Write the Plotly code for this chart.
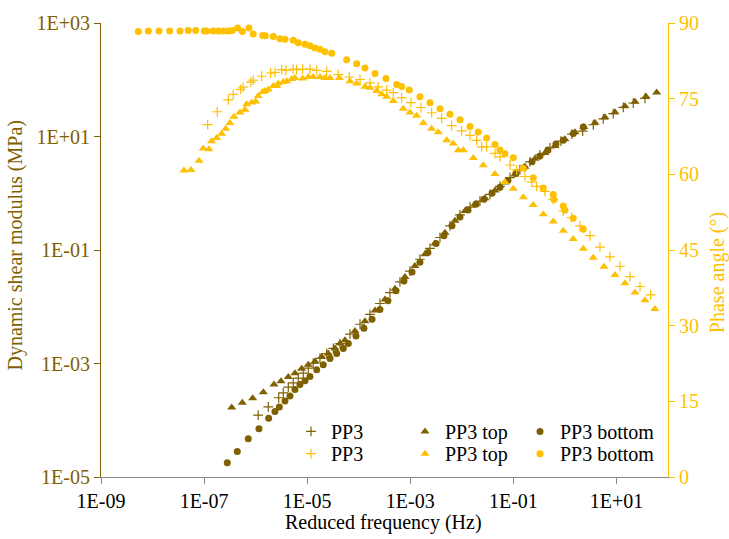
import plotly.graph_objects as go

# ---- Data: reduced frequency (Hz), dynamic shear modulus (MPa), phase angle (deg) ----
# PP3 (whole sample)
pp3_g_freq = [1.12e-6, 1.76e-6, 2.80e-6, 3.44e-6, 4.30e-6, 5.37e-6, 6.71e-6, 8.39e-6, 1.05e-5, 1.31e-5,
              1.77e-5, 2.39e-5, 3.21e-5, 4.33e-5, 6.76e-5, 1.06e-4, 1.65e-4, 2.58e-4, 4.04e-4, 6.31e-4,
              9.86e-4, 1.54e-3, 2.41e-3, 3.77e-3, 5.89e-3, 9.20e-3, 1.44e-2, 2.25e-2, 3.52e-2, 5.50e-2,
              8.59e-2, 0.134, 0.210, 0.328, 0.513, 0.838, 1.37, 2.21, 3.55, 5.55,
              8.67, 13.6, 21.2, 35.7]
pp3_g = [1.23e-4, 1.72e-4, 2.49e-4, 3.04e-4, 3.82e-4, 4.54e-4, 5.53e-4, 6.76e-4, 8.26e-4, 1.01e-3,
         1.23e-3, 1.50e-3, 1.84e-3, 2.24e-3, 3.30e-3, 4.92e-3, 7.34e-3, 1.14e-2, 1.77e-2, 2.74e-2,
         4.26e-2, 6.87e-2, 0.107, 0.166, 0.267, 0.415, 0.570, 0.724, 0.959, 1.32,
         1.89, 2.60, 3.58, 4.74, 6.27, 8.28, 11.0, 12.4, 16.1, 20.5,
         25.4, 32.6, 38.9, 46.8]
pp3_ph_freq = [1.17e-7, 1.80e-7, 2.94e-7, 3.68e-7, 5.13e-7, 5.75e-7, 8.13e-7, 8.99e-7,
               1.31e-6, 1.96e-6, 2.37e-6, 3.20e-6, 3.88e-6, 5.37e-6, 6.25e-6, 8.18e-6,
               1.13e-5, 1.53e-5, 2.39e-5, 4.01e-5, 6.56e-5,
               1.06e-4, 1.65e-4, 2.39e-4, 3.48e-4, 4.68e-4, 6.81e-4,
               1.03e-3, 1.61e-3, 2.60e-3, 4.06e-3, 6.35e-3, 9.93e-3,
               1.44e-2, 1.94e-2, 2.43e-2, 3.03e-2, 4.40e-2, 5.50e-2, 8.59e-2,
               0.116, 0.168, 0.226, 0.283, 0.410, 0.594, 0.929,
               1.35, 1.96, 3.06, 4.79, 7.48, 11.7, 18.3, 28.6, 46.0]
pp3_ph = [69.87, 72.41, 74.75, 75.86, 76.84, 77.29, 78.27, 78.66,
          79.44, 80.09, 80.22, 80.75, 80.61, 80.87, 80.75, 80.87,
          80.87, 80.61, 80.42, 79.77, 79.30,
          78.80, 78.13, 77.35, 76.71, 76.18, 75.14,
          74.22, 73.25, 72.21, 71.10, 69.67, 68.60,
          67.72, 66.74, 65.43, 65.43, 64.14, 63.47, 61.85,
          60.87, 59.57, 58.47, 57.61, 56.63, 55.01, 52.73,
          51.44, 49.80, 47.84, 45.57, 43.62, 41.78, 39.71, 37.76, 36.11]

# PP3 top
top_g_freq = [3.43e-7, 5.51e-7, 8.77e-7, 1.41e-6, 2.27e-6, 3.10e-6, 4.30e-6, 5.79e-6, 7.82e-6, 1.05e-5,
              1.42e-5, 1.91e-5, 2.56e-5, 3.46e-5, 4.33e-5, 5.41e-5, 8.45e-5, 1.32e-4, 2.07e-4, 3.23e-4,
              5.05e-4, 7.89e-4, 1.23e-3, 1.93e-3, 3.01e-3, 4.71e-3, 7.36e-3, 1.15e-2, 1.80e-2, 2.81e-2,
              4.40e-2, 6.87e-2, 0.107, 0.168, 0.262, 0.410, 0.641, 1.00, 1.57, 2.34,
              3.83, 5.98, 9.35, 14.6, 22.9, 37.3, 60.3]
top_g = [1.67e-4, 2.04e-4, 2.43e-4, 3.13e-4, 4.26e-4, 4.85e-4, 5.77e-4, 6.76e-4, 8.05e-4, 9.46e-4,
         1.08e-3, 1.32e-3, 1.50e-3, 1.84e-3, 2.24e-3, 2.56e-3, 3.72e-3, 5.55e-3, 8.61e-3, 1.34e-2,
         2.07e-2, 3.35e-2, 5.20e-2, 8.39e-2, 0.130, 0.202, 0.326, 0.486, 0.643, 0.817,
         1.12, 1.55, 2.13, 2.93, 4.04, 5.13, 6.79, 8.97, 11.9, 14.7,
         17.5, 21.9, 26.7, 34.0, 40.9, 50.6, 59.4]
top_ph_freq = [4.07e-8, 5.57e-8, 7.96e-8, 9.64e-8, 1.24e-7, 1.40e-7, 1.75e-7, 2.19e-7, 2.62e-7, 3.18e-7,
               3.80e-7, 4.97e-7, 6.21e-7, 6.70e-7, 8.38e-7, 1.00e-6, 1.12e-6, 1.37e-6, 1.52e-6, 1.76e-6,
               2.20e-6, 2.56e-6, 2.75e-6, 3.44e-6, 4.00e-6, 5.00e-6, 5.79e-6, 8.18e-6, 1.05e-5, 1.31e-5,
               1.77e-5, 2.21e-5, 2.77e-5, 4.20e-5, 6.76e-5, 9.12e-5, 1.32e-4, 1.65e-4, 2.23e-4, 2.79e-4,
               3.48e-4, 4.68e-4, 7.31e-4, 9.86e-4, 1.33e-3, 1.79e-3, 2.60e-3, 3.49e-3, 5.08e-3, 6.82e-3,
               8.53e-3, 1.07e-2, 1.67e-2, 2.61e-2, 4.40e-2, 6.87e-2, 9.95e-2, 0.156, 0.243, 0.380,
               0.594, 0.929, 1.45, 2.27, 3.55, 5.73, 9.38, 14.6, 22.9, 35.7, 55.8]
top_ph = [60.74, 60.88, 62.69, 65.12, 64.98, 66.54, 67.19, 68.05, 69.03, 70.20,
          71.43, 72.27, 72.80, 73.91, 74.22, 74.46, 75.53, 76.31, 76.51, 76.84,
          77.49, 77.49, 78.01, 78.31, 78.46, 78.91, 79.11, 79.01, 79.30, 79.30,
          79.30, 79.11, 79.11, 79.11, 78.46, 78.01, 77.35, 77.16, 76.51, 75.86,
          75.40, 74.56, 72.99, 72.27, 71.62, 70.20, 69.03, 68.36, 66.74, 66.09,
          64.78, 64.78, 63.22, 61.79, 60.09, 58.47, 57.16, 55.46, 53.90, 52.08,
          50.65, 48.82, 47.20, 45.24, 43.48, 41.66, 40.02, 38.40, 36.58, 35.02, 33.32]

# PP3 bottom
bot_g_freq = [2.82e-7, 4.41e-7, 7.19e-7, 1.16e-6, 1.79e-6, 2.37e-6, 2.88e-6, 3.71e-6, 4.63e-6, 5.79e-6,
              7.24e-6, 9.06e-6, 1.13e-5, 1.53e-5, 2.05e-5, 2.77e-5, 3.73e-5, 5.01e-5, 6.27e-5, 8.85e-5,
              1.26e-4, 1.81e-4, 2.58e-4, 3.69e-4, 5.28e-4, 7.55e-4, 1.08e-3, 1.54e-3, 2.20e-3, 3.16e-3,
              4.51e-3, 6.44e-3, 9.20e-3, 1.32e-2, 1.88e-2, 2.69e-2, 3.85e-2, 5.50e-2, 7.85e-2, 0.112,
              0.160, 0.230, 0.328, 0.469, 0.670, 0.929, 1.45, 2.27]
bot_g = [1.79e-5, 2.81e-5, 4.73e-5, 7.05e-5, 1.09e-4, 1.43e-4, 1.72e-4, 2.18e-4, 2.67e-4, 3.48e-4,
         4.26e-4, 4.99e-4, 5.93e-4, 7.74e-4, 9.46e-4, 1.23e-3, 1.50e-3, 1.84e-3, 2.24e-3, 3.05e-3,
         4.20e-3, 6.01e-3, 8.95e-3, 1.28e-2, 1.91e-2, 2.85e-2, 4.08e-2, 6.10e-2, 9.08e-2, 0.130,
         0.179, 0.267, 0.383, 0.506, 0.643, 0.785, 0.998, 1.27, 1.68, 2.22,
         2.82, 3.58, 4.55, 5.78, 7.35, 8.63, 11.3, 14.7]
bot_ph_freq = [5.30e-9, 8.28e-9, 1.33e-8, 2.15e-8, 3.41e-8, 4.93e-8, 6.87e-8, 1.01e-7, 1.12e-7, 1.51e-7,
               1.88e-7, 2.36e-7, 2.94e-7, 3.52e-7, 4.49e-7, 5.51e-7, 7.43e-7, 8.99e-7, 1.37e-6, 1.54e-6,
               2.20e-6, 2.96e-6, 3.71e-6, 5.37e-6, 6.71e-6, 9.06e-6, 1.13e-5, 1.42e-5, 1.77e-5, 2.21e-5,
               2.99e-5, 5.83e-5, 9.12e-5, 1.32e-4, 2.07e-4, 3.38e-4, 5.45e-4, 6.81e-4, 9.55e-4, 1.54e-3,
               2.41e-3, 3.77e-3, 5.89e-3, 9.20e-3, 1.44e-2, 2.08e-2, 3.03e-2, 4.40e-2, 5.50e-2, 6.87e-2,
               9.95e-2, 0.156, 0.243, 0.380, 0.594, 0.612, 0.929, 1.00, 1.45, 2.27]
bot_ph = [88.3, 88.4, 88.4, 88.4, 88.4, 88.5, 88.5, 88.4, 88.4, 88.4,
          88.4, 88.4, 88.4, 88.5, 89.0, 88.3, 89.0, 87.8, 87.5, 87.45,
          87.3, 86.9, 86.8, 86.6, 86.1, 85.8, 85.5, 85.05, 84.8, 84.3,
          84.0, 82.7, 81.9, 81.1, 80.0, 79.0, 77.8, 77.4, 76.7, 75.4,
          74.2, 73.0, 71.9, 70.8, 69.5, 68.4, 67.2, 65.9, 64.8, 64.1,
          63.3, 61.2, 59.3, 57.3, 56.0, 55.0, 53.7, 52.9, 51.3, 49.1]

# ---- Axis ticks ----
x_tickvals = [1e-9, 1e-7, 1e-5, 1e-3, 1e-1, 1e1]
x_ticktext = ["1E-09", "1E-07", "1E-05", "1E-03", "1E-01", "1E+01"]
g_tickvals = [1e-5, 1e-3, 1e-1, 1e1, 1e3]
g_ticktext = ["1E-05", "1E-03", "1E-01", "1E+01", "1E+03"]
ph_tickvals = [0, 15, 30, 45, 60, 75, 90]

BROWN = "#7F6000"
GOLD = "#FFC000"
FONT = "Liberation Serif, Times New Roman, serif"
FS = 20

# plot-area corners in pixels
L, R, T, B = 101, 668, 16, 477
W, H = 729, 539


def px_x(px):
    return (px - L) / (R - L)


def px_y(py):
    return (B - py) / (B - T)


fig = go.Figure()

# one legend box per entry: 3 columns x 2 rows
legend_cols = [291, 405, 520]
legend_rows = [430.7, 453.3]
legend_layout = {}


def add(x, y, name, symbol, color, yaxis, row, col, size):
    key = "legend" if (row == 0 and col == 0) else f"legend{row * 3 + col + 1}"
    marker = dict(symbol=symbol, color=color, size=size)
    if symbol == "cross-thin":
        marker["line"] = dict(color=color, width=1.2)
    else:
        marker["line"] = dict(width=0)
    fig.add_trace(go.Scatter(x=x, y=y, mode="markers", name=name, marker=marker,
                             yaxis=yaxis, legend=key))
    legend_layout[key] = dict(x=px_x(legend_cols[col]), y=px_y(legend_rows[row]),
                              xanchor="left", yanchor="middle", orientation="v",
                              bgcolor="rgba(0,0,0,0)", borderwidth=0,
                              font=dict(family=FONT, size=FS, color="#000000"))


# modulus (left axis)
add(pp3_g_freq, pp3_g, "PP3", "cross-thin", BROWN, "y", 0, 0, 7)
add(top_g_freq, top_g, "PP3 top", "triangle-up", BROWN, "y", 0, 1, 8)
add(bot_g_freq, bot_g, "PP3 bottom", "circle", BROWN, "y", 0, 2, 7)
# phase angle (right axis)
add(pp3_ph_freq, pp3_ph, "PP3", "cross-thin", GOLD, "y2", 1, 0, 7)
add(top_ph_freq, top_ph, "PP3 top", "triangle-up", GOLD, "y2", 1, 1, 8)
add(bot_ph_freq, bot_ph, "PP3 bottom", "circle", GOLD, "y2", 1, 2, 7)

fig.update_layout(
    width=W, height=H,
    margin=dict(l=L, r=W - R, t=T, b=H - B, pad=0),
    paper_bgcolor="white", plot_bgcolor="white",
    font=dict(family=FONT, size=FS),
    showlegend=True,
    xaxis=dict(type="log", range=[-9, 2], tickvals=x_tickvals, ticktext=x_ticktext,
               showgrid=False, zeroline=False, showline=True, linecolor="#868686", linewidth=1,
               ticks="outside", ticklen=6, tickcolor="#868686",
               tickfont=dict(family=FONT, size=FS, color="#000000")),
    yaxis=dict(type="log", range=[-5, 3], tickvals=g_tickvals, ticktext=g_ticktext,
               showgrid=False, zeroline=False, showline=True, linecolor=BROWN, linewidth=1,
               ticks="outside", ticklen=6, tickcolor=BROWN,
               tickfont=dict(family=FONT, size=FS, color=BROWN)),
    yaxis2=dict(overlaying="y", side="right", range=[0, 90], tickvals=ph_tickvals,
                showgrid=False, zeroline=False, showline=True, linecolor=GOLD, linewidth=1,
                ticks="outside", ticklen=6, tickcolor=GOLD,
                tickfont=dict(family=FONT, size=FS, color=GOLD)),
    **legend_layout,
)

# axis titles
fig.add_annotation(text="Dynamic shear modulus (MPa)", xref="paper", yref="paper",
                   x=px_x(16), y=px_y(242), textangle=-90, showarrow=False,
                   xanchor="center", yanchor="middle", font=dict(family=FONT, size=FS, color=BROWN))
fig.add_annotation(text="Phase angle (°)", xref="paper", yref="paper",
                   x=px_x(717), y=px_y(270), textangle=-90, showarrow=False,
                   xanchor="center", yanchor="middle", font=dict(family=FONT, size=FS, color=GOLD))
fig.add_annotation(text="Reduced frequency (Hz)", xref="paper", yref="paper",
                   x=px_x(383), y=px_y(523), showarrow=False,
                   xanchor="center", yanchor="middle", font=dict(family=FONT, size=FS, color="#000000"))

fig.write_html("out.html")
